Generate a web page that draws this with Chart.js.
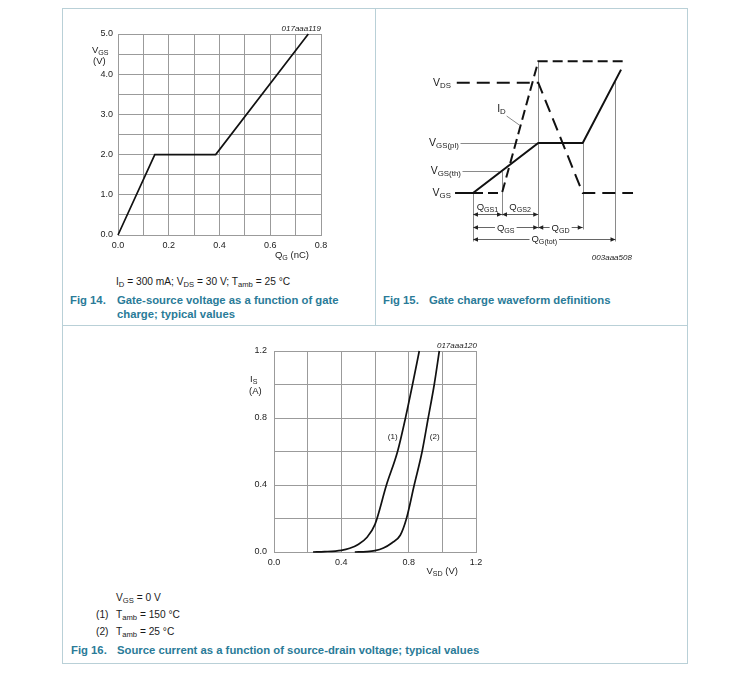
<!DOCTYPE html>
<html>
<head>
<meta charset="utf-8">
<script src="https://cdn.jsdelivr.net/npm/chart.js@4.4.1/dist/chart.umd.min.js"></script>
<style>
  body { margin: 0; background: #fff; font-family: "Liberation Sans", Arial, sans-serif; }
  #page { position: relative; width: 750px; height: 677px; overflow: hidden; }
  .frame { position: absolute; border: 1px solid #b9d0d7; }
  .rule { position: absolute; background: #b9d0d7; }
  canvas { position: absolute; }
  .txt { position: absolute; white-space: nowrap; color: #1a1a1a; font-size: 10.2px; line-height: 12px; }
  .cap { position: absolute; white-space: nowrap; color: #2a7b98; font-weight: bold; font-size: 11.3px; line-height: 13px; }
  sub { font-size: 75%; vertical-align: -2px; line-height: 0; }
</style>
</head>
<body>
<div id="page">
  <div class="frame" style="left:62px; top:8px; width:624px; height:654px;"></div>
  <div class="rule" style="left:375px; top:8px; width:1px; height:317px;"></div>
  <div class="rule" style="left:62px; top:325px; width:625px; height:1px;"></div>

  <canvas id="fig14" width="270" height="240" style="left:70px; top:20px;"></canvas>
  <canvas id="fig15" width="228" height="230" style="left:416px; top:43px;"></canvas>
  <canvas id="fig16" width="270" height="245" style="left:230px; top:335px;"></canvas>

  <div class="txt" style="left:116px; top:276px;">I<sub>D</sub> = 300 mA; V<sub>DS</sub> = 30 V; T<sub>amb</sub> = 25 °C</div>
  <div class="cap" style="left:70px; top:294px;">Fig 14.</div>
  <div class="cap" style="left:117px; top:294px;">Gate-source voltage as a function of gate</div>
  <div class="cap" style="left:117px; top:308px;">charge; typical values</div>
  <div class="cap" style="left:383px; top:294px;">Fig 15.</div>
  <div class="cap" style="left:429px; top:294px;">Gate charge waveform definitions</div>

  <div class="txt" style="left:116px; top:592px;">V<sub>GS</sub> = 0 V</div>
  <div class="txt" style="left:96px; top:609px;">(1)</div>
  <div class="txt" style="left:116px; top:609px;">T<sub>amb</sub> = 150 °C</div>
  <div class="txt" style="left:96px; top:626px;">(2)</div>
  <div class="txt" style="left:116px; top:626px;">T<sub>amb</sub> = 25 °C</div>
  <div class="cap" style="left:71px; top:644px;">Fig 16.</div>
  <div class="cap" style="left:117px; top:644px;">Source current as a function of source-drain voltage; typical values</div>
</div>
<script>
// Fig 14: gate-source voltage vs gate charge
const fig14Charge = [0, 0.145, 0.385, 0.75];
const fig14Vgs = [0, 2.0, 2.0, 5.0];
const fig14XLabels = ['0.0', '0.2', '0.4', '0.6', '0.8'];
const fig14YLabels = ['0.0', '1.0', '2.0', '3.0', '4.0', '5.0'];

// Fig 15: gate charge waveform (schematic units)
const vgsTraceQ = [-0.126, 0, 0.458, 0.77, 1.039];
const vgsTraceV = [0, 0, 5.0, 5.0, 12.34];
const idTraceQ = [0, 0.2035, 0.458, 1.062];
const idTraceV = [0, 0, 13.17, 13.17];
const vdsTraceQ = [-0.114, 0.458, 0.77, 1.123];
const vdsTraceV = [11.03, 11.03, 0, 0];
const fig15Marks = [0, 0.2035, 0.458, 0.77, 1.0];   // Q0, QGS1, QGS, QGD, QG(tot)
const fig15Levels = [0, 2.2, 5.0, 11.03];            // VGS, VGS(th), VGS(pl), VDS

// Fig 16: source current vs source-drain voltage
const vsd150 = [0.232, 0.30, 0.40, 0.45, 0.50, 0.55, 0.60, 0.668, 0.734, 0.781, 0.823, 0.863];
const is150 = [0, 0.002, 0.01, 0.022, 0.045, 0.085, 0.165, 0.4, 0.6, 0.8, 1.0, 1.2];
const vsd25 = [0.48, 0.55, 0.60, 0.65, 0.70, 0.75, 0.787, 0.833, 0.88, 0.916, 0.952, 0.982];
const is25 = [0, 0.002, 0.008, 0.024, 0.054, 0.10, 0.2, 0.4, 0.6, 0.8, 1.0, 1.2];
const fig16Labels = ['0.0', '0.4', '0.8', '1.2'];
const fig16Tags = [['(1)', 0.705, 0.685], ['(2)', 0.955, 0.685]];

Chart.defaults.font.family = '"Liberation Sans", Arial, sans-serif';
Chart.defaults.font.size = 9;
Chart.defaults.color = '#222';
Chart.defaults.animation = false;

const GRID = '#9b9b9b';
const FONT = '"Liberation Sans", Arial, sans-serif';

// Une dos listas en puntos {x, y}
function zip(xs, ys) {
    return xs.map((x, i) => ({ x: x, y: ys[i] }));
}

// Texto con subindices: 'V_{GS}'
function richText(ctx, str, x, y, size, align, style) {
    const parts = [];
    str.replace(/_\{([^}]*)\}|([^_]+)/g, (m, sub, main) => {
        parts.push(sub !== undefined ? { t: sub, sub: true } : { t: main, sub: false });
    });
    const pre = style ? style + ' ' : '';
    const mainFont = pre + size + 'px ' + FONT;
    const subFont = pre + (size * 0.75) + 'px ' + FONT;
    let w = 0;
    parts.forEach(p => { ctx.font = p.sub ? subFont : mainFont; p.w = ctx.measureText(p.t).width; w += p.w; });
    const left = align === 'right' ? x - w : align === 'center' ? x - w / 2 : x;
    let cx = left;
    ctx.save();
    ctx.fillStyle = '#1a1a1a';
    ctx.textBaseline = 'middle';
    ctx.textAlign = 'left';
    parts.forEach(p => {
        ctx.font = p.sub ? subFont : mainFont;
        ctx.fillText(p.t, cx, p.sub ? y + size * 0.3 : y);
        cx += p.w;
    });
    ctx.restore();
    return { left: left, width: w };
}

function labelFrom(list) {
    return (v) => { const s = v.toFixed(1); return list.includes(s) ? s : ''; };
}

// Ejes con rejilla gris y anchos fijos
function gridAxis(min, max, step, labels, isY, size, pad) {
    return {
        type: 'linear', min: min, max: max,
        grid: { color: GRID, lineWidth: 1, drawTicks: false },
        border: { color: GRID, width: 1 },
        ticks: { stepSize: step, autoSkip: false, maxRotation: 0, padding: pad, callback: labelFrom(labels) },
        afterFit: (scale) => { if (isY) scale.width = size; else scale.height = size; }
    };
}

const lineStyle = { borderColor: '#111', borderWidth: 1.7, pointRadius: 0, fill: false, clip: false };

// ---- Fig 14 ----
const fig14Text = {
    id: 'fig14Text',
    afterDraw(chart) {
        const ctx = chart.ctx, a = chart.chartArea;
        richText(ctx, 'V_{GS}', a.left - 26, a.top + 16, 9.5, 'left');
        richText(ctx, '(V)', a.left - 25, a.top + 27, 9.5, 'left');
        richText(ctx, 'Q_{G} (nC)', a.right - 12, a.bottom + 20, 9.5, 'right');
        richText(ctx, '017aaa119', a.right, a.top - 5, 8, 'right', 'italic');
    }
};

new Chart(document.getElementById('fig14'), {
    type: 'line',
    data: { datasets: [Object.assign({ data: zip(fig14Charge, fig14Vgs), tension: 0 }, lineStyle)] },
    options: {
        responsive: false,
        layout: { padding: { top: 14, right: 19, left: 0, bottom: 0 } },
        plugins: { legend: { display: false }, tooltip: { enabled: false } },
        scales: {
            x: gridAxis(0, 0.8, 0.1, fig14XLabels, false, 25, 5),
            y: gridAxis(0, 5, 0.5, fig14YLabels, true, 48, 5)
        }
    },
    plugins: [fig14Text]
});

// ---- Fig 15 ----
function arrowRow(ctx, x1, x2, y) {
    ctx.save();
    ctx.strokeStyle = '#666';
    ctx.lineWidth = 1;
    ctx.beginPath(); ctx.moveTo(x1, y + 0.5); ctx.lineTo(x2, y + 0.5); ctx.stroke();
    ctx.fillStyle = '#222';
    [[x1, 1], [x2, -1]].forEach(([x, d]) => {
        ctx.beginPath();
        ctx.moveTo(x, y + 0.5);
        ctx.lineTo(x + 5 * d, y - 1.8);
        ctx.lineTo(x + 5 * d, y + 2.8);
        ctx.closePath();
        ctx.fill();
    });
    ctx.restore();
}

function boxedText(ctx, str, x, y, size) {
    const r = richText(ctx, str, x, y, size, 'center');
    ctx.save();
    ctx.fillStyle = '#fff';
    ctx.fillRect(r.left - 2, y - 6, r.width + 4, 13);
    ctx.restore();
    richText(ctx, str, x, y, size, 'center');
}

const fig15Decor = {
    id: 'fig15Decor',
    beforeDatasetsDraw(chart) {
        const ctx = chart.ctx, xs = chart.scales.x, ys = chart.scales.y;
        const X = (q) => Math.round(xs.getPixelForValue(q)) + 0.5;
        const Y = (v) => Math.round(ys.getPixelForValue(v)) + 0.5;
        ctx.save();
        ctx.strokeStyle = '#8a8a8a';
        ctx.lineWidth = 1;
        // lineas de cota verticales
        const verts = [[fig15Marks[0], 0, -4.8], [fig15Marks[1], fig15Levels[1], -2.2],
                       [fig15Marks[2], idTraceV[2], -3.5], [fig15Marks[3], fig15Levels[2], -3.55],
                       [fig15Marks[4], 11.2, -4.8]];
        verts.forEach(([q, v1, v2]) => {
            ctx.beginPath(); ctx.moveTo(X(q), Y(v1)); ctx.lineTo(X(q), Y(v2)); ctx.stroke();
        });
        // lineas guia de las etiquetas
        ctx.beginPath(); ctx.moveTo(X(-0.09), Y(fig15Levels[2])); ctx.lineTo(X(fig15Marks[2]), Y(fig15Levels[2])); ctx.stroke();
        ctx.beginPath(); ctx.moveTo(X(-0.075), Y(fig15Levels[1])); ctx.lineTo(X(0.18), Y(fig15Levels[1])); ctx.stroke();
        ctx.beginPath(); ctx.moveTo(xs.getPixelForValue(0.236), ys.getPixelForValue(7.7));
        ctx.lineTo(xs.getPixelForValue(0.325), ys.getPixelForValue(6.8)); ctx.stroke();
        ctx.restore();
    },
    afterDraw(chart) {
        const ctx = chart.ctx, xs = chart.scales.x, ys = chart.scales.y;
        const X = (q) => xs.getPixelForValue(q);
        const Y = (v) => ys.getPixelForValue(v);
        const m = fig15Marks;
        richText(ctx, 'V_{DS}', X(-0.155), Y(fig15Levels[3]), 10.5, 'right');
        richText(ctx, 'V_{GS(pl)}', X(-0.1), Y(fig15Levels[2]), 10.5, 'right');
        richText(ctx, 'V_{GS(th)}', X(-0.085), Y(fig15Levels[1]), 10.5, 'right');
        richText(ctx, 'V_{GS}', X(-0.155), Y(fig15Levels[0]), 10.5, 'right');
        richText(ctx, 'I_{D}', X(0.2), Y(8.4), 10.5, 'center');

        arrowRow(ctx, X(m[0]), X(m[1]), Math.round(Y(-2.06)));
        arrowRow(ctx, X(m[1]), X(m[2]), Math.round(Y(-2.06)));
        richText(ctx, 'Q_{GS1}', X((m[0] + m[1]) / 2), Y(-1.45), 9.5, 'center');
        richText(ctx, 'Q_{GS2}', X((m[1] + m[2]) / 2), Y(-1.45), 9.5, 'center');

        arrowRow(ctx, X(m[0]), X(m[2]), Math.round(Y(-3.4)));
        arrowRow(ctx, X(m[2]), X(m[3]), Math.round(Y(-3.4)));
        boxedText(ctx, 'Q_{GS}', X(0.23), Y(-3.5), 9.5);
        boxedText(ctx, 'Q_{GD}', X(0.615), Y(-3.5), 9.5);

        arrowRow(ctx, X(m[0]), X(m[4]), Math.round(Y(-4.56)));
        boxedText(ctx, 'Q_{G(tot)}', X(0.5), Y(-4.65), 9.5);

        richText(ctx, '003aaa508', X(1.115), Y(-6.5), 8, 'right', 'italic');
    }
};

const traceStyle = { borderColor: '#111', borderWidth: 2, pointRadius: 0, fill: false, tension: 0, clip: false, borderCapStyle: 'butt' };

new Chart(document.getElementById('fig15'), {
    type: 'line',
    data: {
        datasets: [
            Object.assign({ data: zip(idTraceQ, idTraceV), borderDash: [10, 5] }, traceStyle),
            Object.assign({ data: zip(vdsTraceQ, vdsTraceV), borderDash: [13, 7] }, traceStyle),
            Object.assign({ data: zip(vgsTraceQ, vgsTraceV) }, traceStyle)
        ]
    },
    options: {
        responsive: false,
        layout: { padding: 0 },
        plugins: { legend: { display: false }, tooltip: { enabled: false } },
        scales: {
            x: { type: 'linear', min: -0.4, max: 1.2, display: false },
            y: { type: 'linear', min: -8, max: 15, display: false }
        }
    },
    plugins: [fig15Decor]
});

// ---- Fig 16 ----
const fig16Text = {
    id: 'fig16Text',
    afterDraw(chart) {
        const ctx = chart.ctx, a = chart.chartArea, xs = chart.scales.x, ys = chart.scales.y;
        richText(ctx, 'I_{S}', a.left - 24, a.top + 28, 9.5, 'left');
        richText(ctx, '(A)', a.left - 25, a.top + 40, 9.5, 'left');
        richText(ctx, 'V_{SD} (V)', a.right - 18, a.bottom + 19, 9.5, 'right');
        richText(ctx, '017aaa120', a.right + 1, a.top - 5, 8, 'right', 'italic');
        fig16Tags.forEach(([t, x, y]) => richText(ctx, t, xs.getPixelForValue(x), ys.getPixelForValue(y), 8, 'center'));
    }
};

new Chart(document.getElementById('fig16'), {
    type: 'line',
    data: {
        datasets: [
            Object.assign({ data: zip(vsd150, is150), cubicInterpolationMode: 'monotone' }, lineStyle),
            Object.assign({ data: zip(vsd25, is25), cubicInterpolationMode: 'monotone' }, lineStyle)
        ]
    },
    options: {
        responsive: false,
        layout: { padding: { top: 16, right: 24, left: 0, bottom: 0 } },
        plugins: { legend: { display: false }, tooltip: { enabled: false } },
        scales: {
            x: gridAxis(0, 1.2, 0.2, fig16Labels, false, 28, 5),
            y: gridAxis(0, 1.2, 0.2, fig16Labels, true, 44, 7)
        }
    },
    plugins: [fig16Text]
});
</script>
</body>
</html>
